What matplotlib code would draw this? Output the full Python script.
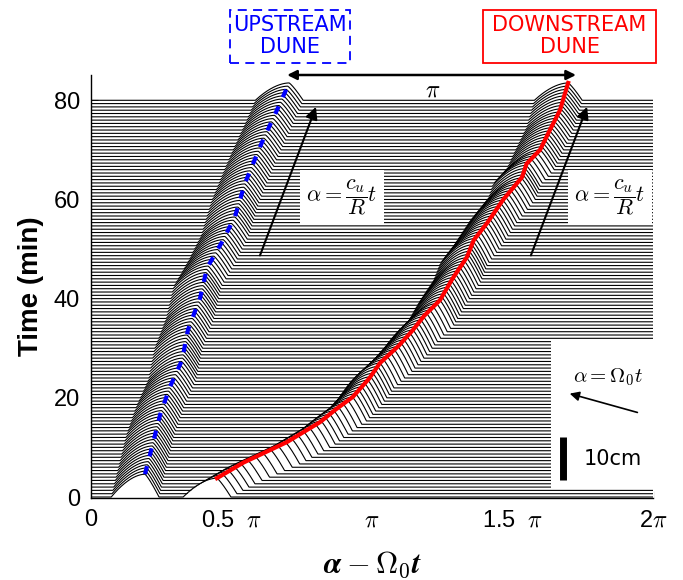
import numpy as np
import matplotlib
matplotlib.use("Agg")
import matplotlib.pyplot as plt
from matplotlib.patches import Rectangle

plt.rcParams['mathtext.fontset'] = 'cm'
plt.rcParams['font.family'] = ['Liberation Sans', 'DejaVu Sans']

# ---- data ----
# profile times (min)
profile_times = np.linspace(0, 80, 121)

# upstream dune crest: time (min), position (units of pi), height (plot units)
t_up = [0, 5.8, 12.5, 18.2, 23.6, 29.7, 36.1, 42.3, 47.5, 52.7, 59.5, 67.9, 75.8, 80]
x_up = [0.192, 0.217, 0.246, 0.281, 0.324, 0.345, 0.388, 0.413, 0.466, 0.512, 0.548, 0.609, 0.673, 0.705]
h_up = [4.6, 4.3, 4.1, 4.0, 4.0, 4.0, 4.0, 3.9, 3.9, 3.8, 3.8, 3.7, 3.6, 3.5]

# downstream dune crest
t_dn = [0, 2.9, 6.8, 10.5, 13.0, 15.4, 19.0, 22.0, 25.5, 28.7, 31.5, 34.7, 39.0, 43.5, 47.0,
        50.5, 55.4, 60.2, 63.0, 66.0, 70.2, 74.4, 80.0]
x_dn = [0.448, 0.541, 0.698, 0.815, 0.872, 0.932, 0.990, 1.028, 1.095, 1.146, 1.185, 1.242, 1.285,
        1.338, 1.362, 1.409, 1.466, 1.534, 1.550, 1.598, 1.633, 1.669, 1.698]
h_dn = [3.8, 4.0, 4.3, 4.6, 4.7, 4.8, 4.9, 5.0, 5.0, 5.0, 5.0, 5.0, 4.9, 4.9, 4.8,
        4.7, 4.5, 4.3, 4.2, 4.0, 3.8, 3.6, 3.5]

# dune shape: stoss and lee lengths (units of pi)
stoss_len = 0.12
lee_len = 0.05

xtick_vals = [0, 0.5, 1.0, 1.5, 2.0]
xtick_labels = ['0', r'0.5  $\pi$', r'$\pi$', r'1.5  $\pi$', r'2$\pi$']
ytick_vals = [0, 20, 40, 60, 80]

PI = np.pi


def bump(x, xc, h, Ls, Ll):
    u = x - xc
    y = np.zeros_like(x)
    s = (u <= 0) & (u > -Ls)
    y[s] = h * (1 - (-u[s] / Ls) ** 1.8)
    l = (u > 0) & (u < Ll)
    y[l] = h * (1 - (u[l] / Ll) ** 1.2)
    return y


fig = plt.figure(figsize=(6.83, 5.8), dpi=100)
ax = fig.add_axes([91 / 683, (580 - 498) / 580, (653 - 91) / 683, (498 - 75) / 580])

x = np.linspace(0, 2 * PI, 3000)
Ls, Ll = stoss_len * PI, lee_len * PI
zo = 2.0
for t in profile_times[::-1]:
    xu = np.interp(t, t_up, x_up) * PI
    hu = np.interp(t, t_up, h_up)
    xd = np.interp(t, t_dn, x_dn) * PI
    hd = np.interp(t, t_dn, h_dn)
    y = t + bump(x, xu, hu, Ls, Ll) + bump(x, xd, hd, Ls, Ll)
    ax.fill_between(x, -5, y, color='white', lw=0, zorder=zo)
    ax.plot(x, y, color='black', lw=0.8, zorder=zo + 0.001)
    zo += 0.002

# crest trajectories
ax.plot(np.array(x_up) * PI, np.array(t_up) + np.array(h_up), color='blue', lw=3,
        ls=(0, (2.0, 2.4)), zorder=10, solid_capstyle='butt')
ax.plot(np.array(x_dn) * PI, np.array(t_dn) + np.array(h_dn), color='red', lw=3, zorder=10)

# white panel lower right
ax.add_patch(Rectangle((1.637 * PI, 1.6), 2 * PI - 1.637 * PI, 30.0, facecolor='white',
                       edgecolor='none', zorder=11))

# annotations
arrow_kw = dict(arrowstyle='-|>', color='black', lw=1.5, mutation_scale=18)
ax.annotate('', xy=(0.804 * PI, 79.2), xytext=(0.598 * PI, 48.2), arrowprops=arrow_kw, zorder=12)
ax.annotate('', xy=(1.769 * PI, 79.2), xytext=(1.562 * PI, 48.2), arrowprops=arrow_kw, zorder=12)
ax.annotate('', xy=(1.694 * PI, 21.0), xytext=(1.954 * PI, 16.9),
            arrowprops=dict(arrowstyle='-|>', color='black', lw=1.2, mutation_scale=14), zorder=12)

bb = dict(boxstyle='square,pad=0.3', facecolor='white', edgecolor='none')
ax.text(0.893 * PI, 60.5, r'$\alpha = \dfrac{c_u}{R}t$', fontsize=16, ha='center', va='center',
        bbox=bb, zorder=13)
ax.text(1.847 * PI, 60.5, r'$\alpha = \dfrac{c_u}{R}t$', fontsize=16, ha='center', va='center',
        bbox=bb, zorder=13)
ax.text(1.840 * PI, 24.2, r'$\alpha = \Omega_0 t$', fontsize=15, ha='center', va='center', zorder=13)

# scale bar
ax.plot([1.68 * PI, 1.68 * PI], [3.4, 12.1], color='black', lw=5, solid_capstyle='butt', zorder=13)
ax.text(1.858 * PI, 7.6, '10cm', fontsize=15, family='DejaVu Sans', ha='center', va='center', zorder=13)

# pi separation arrow
ax.annotate('', xy=(1.726 * PI, 85.1), xytext=(0.698 * PI, 85.1), annotation_clip=False,
            arrowprops=dict(arrowstyle='<|-|>', color='black', lw=1.8, mutation_scale=14,
                            shrinkA=0, shrinkB=0))
ax.text(1.217 * PI, 82.0, r'$\pi$', fontsize=17, ha='center', va='center', zorder=13)

# dune name boxes (figure coords)
fig.patches.append(Rectangle((230 / 683, 1 - 63 / 580), 120 / 683, 53 / 580, transform=fig.transFigure,
                             fill=False, edgecolor='blue', lw=1.3, ls=(0, (5, 3.5))))
fig.text(290 / 683, 1 - 36 / 580, 'UPSTREAM\nDUNE', color='blue', fontsize=15, family='DejaVu Sans',
         ha='center', va='center', linespacing=1.15)
fig.patches.append(Rectangle((483 / 683, 1 - 63 / 580), 173 / 683, 53 / 580, transform=fig.transFigure,
                             fill=False, edgecolor='red', lw=1.3))
fig.text(569.5 / 683, 1 - 36 / 580, 'DOWNSTREAM\nDUNE', color='red', fontsize=15, family='DejaVu Sans',
         ha='center', va='center', linespacing=1.15)

# axes styling
ax.set_xlim(0, 2 * PI)
ax.set_ylim(-0.2, 85.1)
ax.set_xticks(np.array(xtick_vals) * PI)
ax.set_xticklabels(xtick_labels, fontsize=17)
ax.set_yticks(ytick_vals)
ax.set_yticklabels([str(v) for v in ytick_vals], fontsize=17)
ax.tick_params(direction='in', length=5, width=0.8, pad=8)
ax.spines['top'].set_visible(False)
ax.spines['right'].set_visible(False)
for s in ('left', 'bottom'):
    ax.spines[s].set_zorder(20)
    ax.spines[s].set_linewidth(1.0)
ax.set_ylabel('Time (min)', fontsize=20, fontweight='bold', labelpad=7)
ax.set_xlabel(r'$\boldsymbol{\alpha - \Omega_0 t}$', fontsize=22, labelpad=13)

fig.savefig('out.png', dpi=100)
